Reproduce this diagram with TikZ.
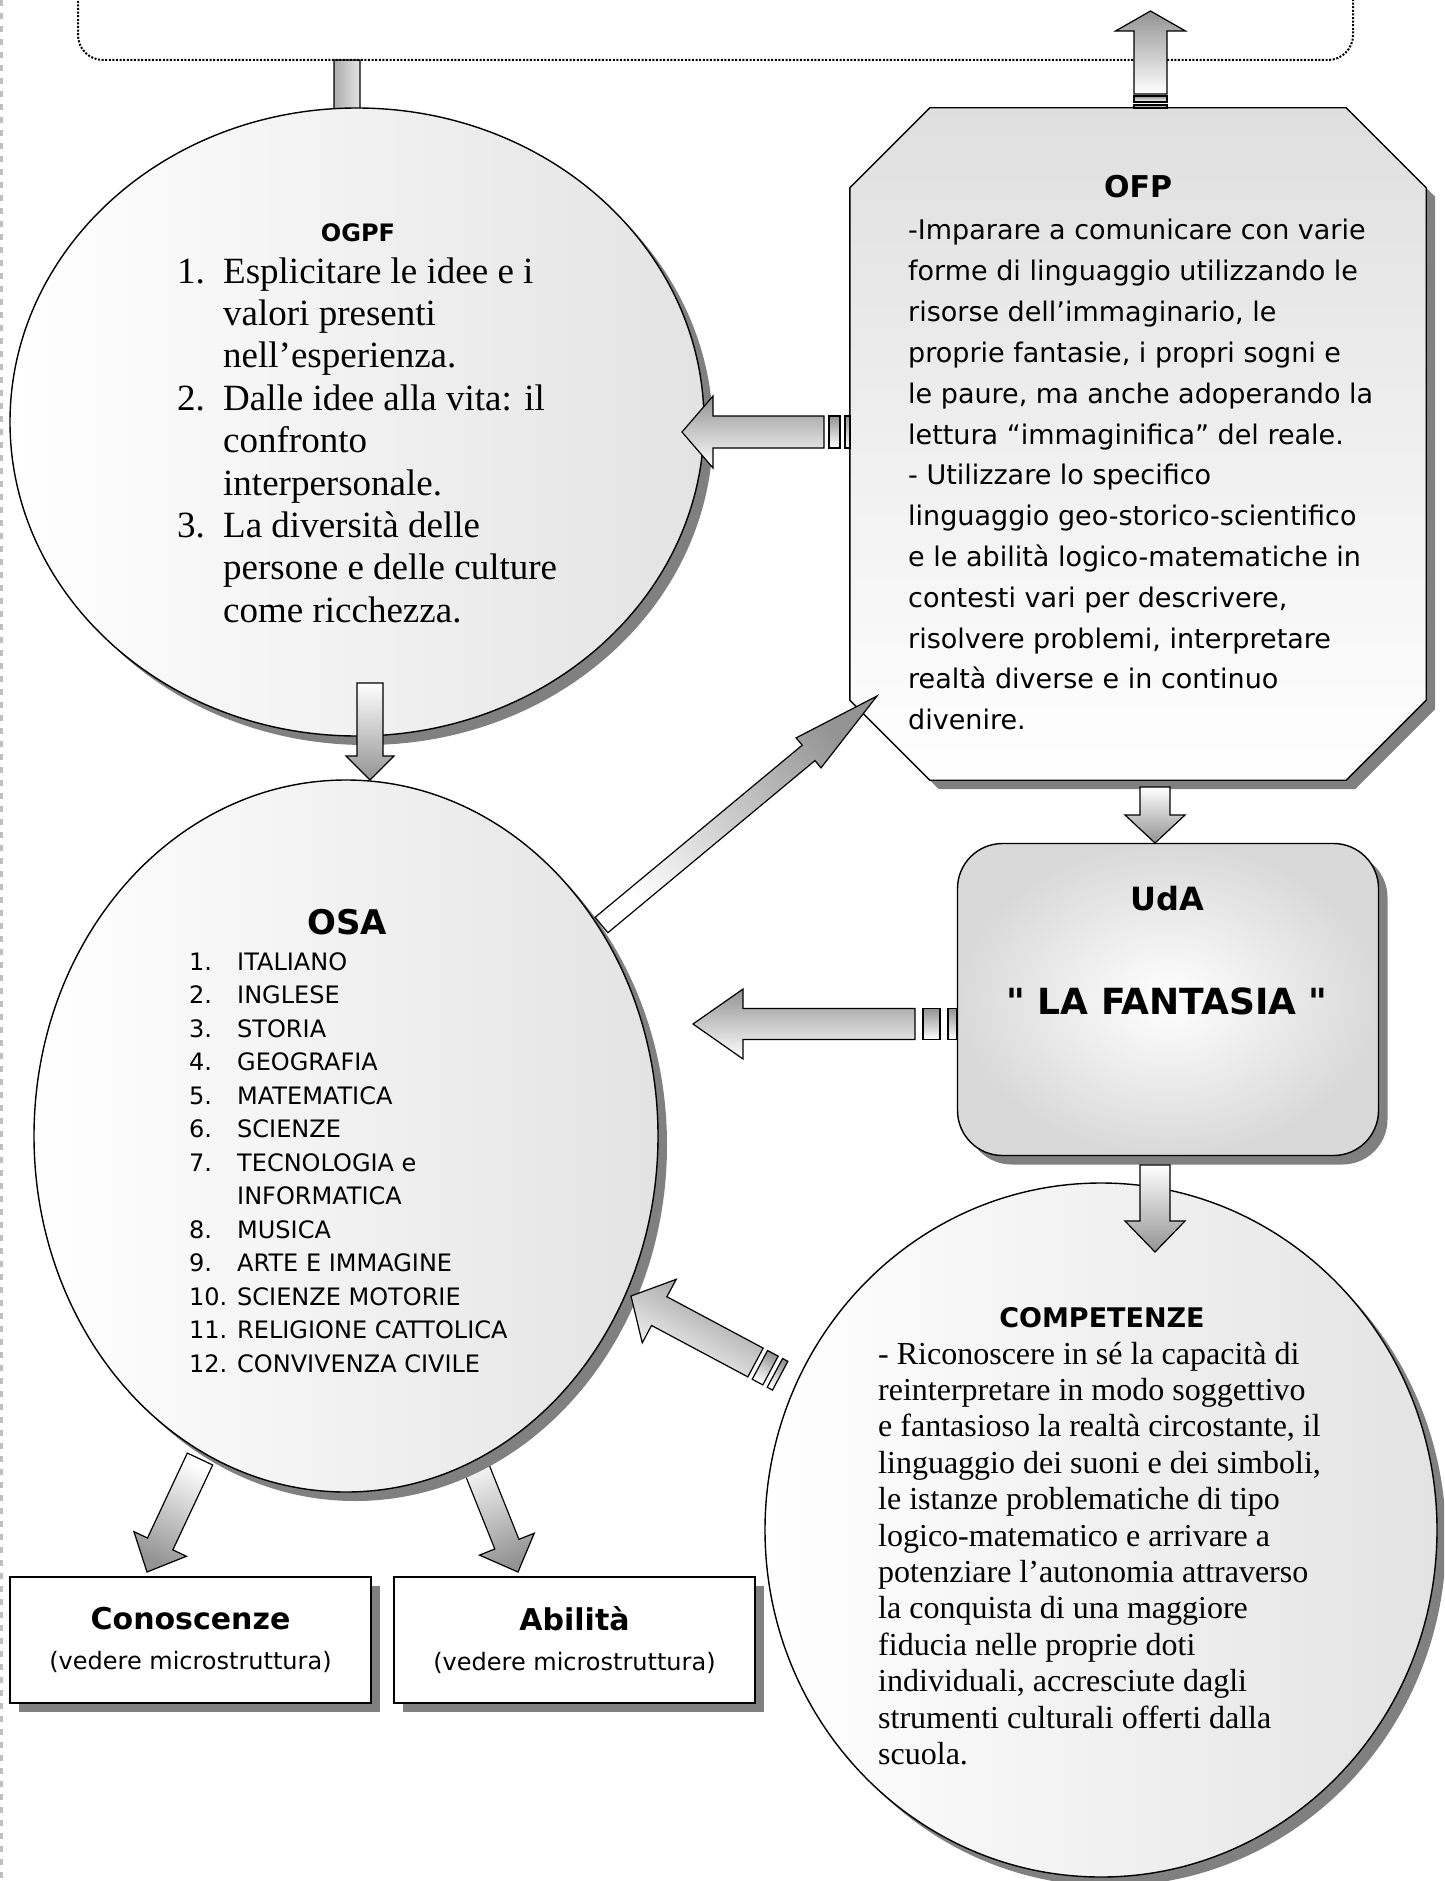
\documentclass[tikz,border=0pt]{standalone}
\usepackage{fontspec}
\setmainfont{Liberation Serif}
\newfontfamily\comicfont{DejaVu Sans}
\usepackage{tikz}
\usetikzlibrary{arrows.meta,positioning,shapes.geometric,calc,shadows}

\pgfdeclarelayer{back}
\pgfsetlayers{back,main}

% block arrow: [style] tail, tip, shaft half width, head half width, head length
\newcommand{\blockarrow}[6][]{%
  \path let \p1=($(#3)-(#2)$) in \pgfextra{\pgfmathsetmacro{\arrowang}{atan2(\y1,\x1)-90}\global\let\arrowang\arrowang};
  \coordinate (hb) at ($(#3)!#6!(#2)$);
  \draw[bigarrow, shading angle=\arrowang, #1]
    ($(#2)!#4!90:(#3)$) -- ($(hb)!#4!90:(#3)$) -- ($(hb)!#5!90:(#3)$) -- (#3)
    -- ($(hb)!#5!-90:(#3)$) -- ($(hb)!#4!-90:(#3)$) -- ($(#2)!#4!-90:(#3)$) -- cycle;
}
% stripe behind the tail: [style] tail, tip, near, far, half width
\newcommand{\arrowstripe}[6][]{%
  \path let \p1=($(#3)-(#2)$) in \pgfextra{\pgfmathsetmacro{\arrowang}{atan2(\y1,\x1)-90}\global\let\arrowang\arrowang};
  \coordinate (sa) at ($(#2)!-#4!(#3)$);
  \coordinate (sb) at ($(#2)!-#5!(#3)$);
  \draw[bigarrow, shading angle=\arrowang, #1]
    ($(sa)!#6!90:(#3)$) -- ($(sb)!#6!90:(#3)$) -- ($(sb)!#6!-90:(#3)$) -- ($(sa)!#6!-90:(#3)$) -- cycle;
}

\begin{document}
\begin{tikzpicture}[x=1pt, y=-1pt,
  every node/.style={inner sep=0pt},
  shadowed/.style={drop shadow={shadow xshift=9pt, shadow yshift=-9pt, fill=black!50, opacity=1}},
  bubble/.style={ellipse, draw, line width=1.4pt, left color=white, right color=gray!22, shadowed},
  octa/.style={draw, line width=1.4pt, top color=gray!25, bottom color=white, shadowed},
  udabox/.style={draw, line width=1.4pt, rounded corners=45pt, inner color=white, outer color=gray!30, shadowed},
  plainbox/.style={draw, line width=1.4pt, fill=white, minimum width=361pt, minimum height=126pt, align=center, font=\comicfont\fontsize{24}{40}\selectfont, shadowed},
  dotframe/.style={draw, line width=2pt, dash pattern=on 2pt off 1.6pt, rounded corners=25pt},
  bigarrow/.style={draw, line width=1.2pt, line join=miter, top color=gray!85, bottom color=white},
  headline/.style={anchor=base, font=\comicfont\bfseries\fontsize{#1}{#1}\selectfont},
  osaitem/.style={anchor=base west, font=\comicfont\fontsize{24}{24}\selectfont}]
  \useasboundingbox (0,0) rectangle (1444,1881);
  \clip (0,0) rectangle (1444,1881);
  \draw[black!25, line width=2.5pt, dash pattern=on 6pt off 7pt] (1.5,0) -- (1.5,1881);

  % cornice in alto
  \node[dotframe, minimum width=1275pt, minimum height=260pt] (goals) at (715.5,-70) {};

  % estremi delle frecce
  \coordinate (goals-out) at (347,60);      \coordinate (ogpf-in) at (347,160);
  \coordinate (ofp-up) at (1150.5,94);      \coordinate (goals-in) at (1150.5,11);
  \coordinate (ofp-left) at (824,432);      \coordinate (ogpf-right) at (682,432);
  \coordinate (ogpf-down) at (370,683);     \coordinate (osa-top) at (370,780);
  \coordinate (osa-ne) at (601.5,925);      \coordinate (ofp-sw) at (877,696);
  \coordinate (ofp-down) at (1155,787);     \coordinate (uda-top) at (1155,843);
  \coordinate (uda-left) at (915,1024);     \coordinate (osa-east) at (693,1024);
  \coordinate (uda-down) at (1155,1165);    \coordinate (comp-top) at (1155,1252);
  \coordinate (comp-nw) at (755.5,1362.5);  \coordinate (osa-se) at (631,1296);
  \coordinate (osa-sw) at (200,1459);       \coordinate (con-top) at (147,1572);
  \coordinate (osa-s) at (470,1452);        \coordinate (abi-top) at (518,1572);

  % frecce dietro i nodi
  \begin{pgfonlayer}{back}
    \blockarrow[shading angle=90]{goals-out}{ogpf-in}{13pt}{25pt}{25pt}
    \blockarrow{osa-s}{abi-top}{13pt}{29.5pt}{30pt}
  \end{pgfonlayer}

  % OGPF
  \node[bubble, minimum width=694pt, minimum height=628pt] (ogpf) at (357,422) {};
  \node[headline=24] (ogpf-title) at (358,241) {OGPF};
  \node[anchor=base west, font=\fontsize{37}{42.4}\selectfont] (ogpf-list) at (177,283) {%
    \begin{tabular}[t]{@{}p{46pt}@{}l@{}}
    1. & Esplicitare le idee e i\\
       & valori presenti\\
       & nell’esperienza.\\
    2. & Dalle idee alla vita: il\\
       & confronto\\
       & interpersonale.\\
    3. & La diversità delle\\
       & persone e delle culture\\
       & come ricchezza.
    \end{tabular}};

  % OFP
  \node[minimum width=576pt, minimum height=672pt] (ofp) at (1138,444) {};
  \draw[octa] ($(ofp.north west)+(80,0)$) -- ($(ofp.north east)+(-80,0)$) -- ($(ofp.north east)+(0,80)$)
    -- ($(ofp.south east)+(0,-80)$) -- ($(ofp.south east)+(-80,0)$) -- ($(ofp.south west)+(80,0)$)
    -- ($(ofp.south west)+(0,-80)$) -- ($(ofp.north west)+(0,80)$) -- cycle;
  \node[headline=30] (ofp-title) at (1138,198) {OFP};
  \node[anchor=base west, font=\comicfont\fontsize{27}{40.8}\selectfont] (ofp-text) at (908,240) {%
    \begin{tabular}[t]{@{}l@{}}
    -Imparare a comunicare con varie\\
    forme di linguaggio utilizzando le\\
    risorse dell’immaginario, le\\
    proprie fantasie, i propri sogni e\\
    le paure, ma anche adoperando la\\
    lettura “immaginifica” del reale.\\
    - Utilizzare lo specifico\\
    linguaggio geo-storico-scientifico\\
    e le abilità logico-matematiche in\\
    contesti vari per descrivere,\\
    risolvere problemi, interpretare\\
    realtà diverse e in continuo\\
    divenire.
    \end{tabular}};

  % OSA
  \node[bubble, minimum width=624pt, minimum height=712pt] (osa) at (346,1136) {};
  \node[headline=34] (osa-title) at (347,934) {OSA};
  \foreach \lab/\yy/\subj in {1./0/ITALIANO, 2./1/INGLESE, 3./2/STORIA, 4./3/GEOGRAFIA,
      5./4/MATEMATICA, 6./5/SCIENZE, 7./6/TECNOLOGIA e, /7/INFORMATICA, 8./8/MUSICA,
      9./9/ARTE E IMMAGINE, 10./10/SCIENZE MOTORIE, 11./11/RELIGIONE CATTOLICA,
      12./12/CONVIVENZA CIVILE} {
    \node[osaitem] (osa-num-\yy) at (189,{970+33.5*\yy}) {\lab};
    \node[osaitem] (osa-item-\yy) at (237,{970+33.5*\yy}) {\subj};
  }

  % UdA
  \node[udabox, minimum width=421pt, minimum height=312pt] (uda) at (1168,999.5) {};
  \node[headline=32] (uda-title) at (1167,910) {UdA};
  \node[headline=36] (uda-name) at (1167,1014) {" LA FANTASIA "};

  % COMPETENZE
  \node[bubble, minimum width=672pt, minimum height=694pt] (comp) at (1101,1530) {};
  \node[headline=27] (comp-title) at (1102,1327) {COMPETENZE};
  \node[anchor=base west, font=\fontsize{32}{36.4}\selectfont] (comp-text) at (878,1364) {%
    \begin{tabular}[t]{@{}l@{}}
    - Riconoscere in sé la capacità di\\
    reinterpretare in modo soggettivo\\
    e fantasioso la realtà circostante, il\\
    linguaggio dei suoni e dei simboli,\\
    le istanze problematiche di tipo\\
    logico-matematico e arrivare a\\
    potenziare l’autonomia attraverso\\
    la conquista di una maggiore\\
    fiducia nelle proprie doti\\
    individuali, accresciute dagli\\
    strumenti culturali offerti dalla\\
    scuola.
    \end{tabular}};

  % Conoscenze e Abilità
  \node[plainbox] (con) at (190.5,1640) {{\bfseries\fontsize{30}{30}\selectfont Conoscenze}\\(vedere microstruttura)};
  \node[plainbox] (abi) at (574.5,1640) {{\bfseries\fontsize{30}{30}\selectfont Abilità}\\(vedere microstruttura)};

  % frecce
  \blockarrow{ofp-up}{goals-in}{16.5pt}{35pt}{20pt}
  \arrowstripe{ofp-up}{goals-in}{2pt}{8pt}{16.5pt}
  \arrowstripe{ofp-up}{goals-in}{11pt}{14pt}{16.5pt}
  \blockarrow[shading angle=0]{ofp-left}{ogpf-right}{16pt}{36pt}{31pt}
  \arrowstripe[shading angle=0]{ofp-left}{ogpf-right}{5pt}{16pt}{16pt}
  \arrowstripe[shading angle=0]{ofp-left}{ogpf-right}{21pt}{26pt}{16pt}
  \blockarrow{ogpf-down}{osa-top}{13pt}{24pt}{24pt}
  \blockarrow{osa-ne}{ofp-sw}{10pt}{19.5pt}{89pt}
  \blockarrow{ofp-down}{uda-top}{15pt}{30pt}{28pt}
  \blockarrow[shading angle=0]{uda-left}{osa-east}{15.5pt}{35pt}{50pt}
  \arrowstripe[shading angle=0]{uda-left}{osa-east}{8pt}{25pt}{15.5pt}
  \arrowstripe[shading angle=0]{uda-left}{osa-east}{33pt}{42pt}{15.5pt}
  \blockarrow{uda-down}{comp-top}{15pt}{30pt}{31pt}
  \blockarrow[shading angle=-28]{comp-nw}{osa-se}{16.3pt}{36pt}{32pt}
  \arrowstripe[shading angle=-28]{comp-nw}{osa-se}{5pt}{17pt}{16.3pt}
  \arrowstripe[shading angle=-28]{comp-nw}{osa-se}{22pt}{28pt}{16.3pt}
  \blockarrow{osa-sw}{con-top}{14pt}{29pt}{31pt}
\end{tikzpicture}
\end{document}
